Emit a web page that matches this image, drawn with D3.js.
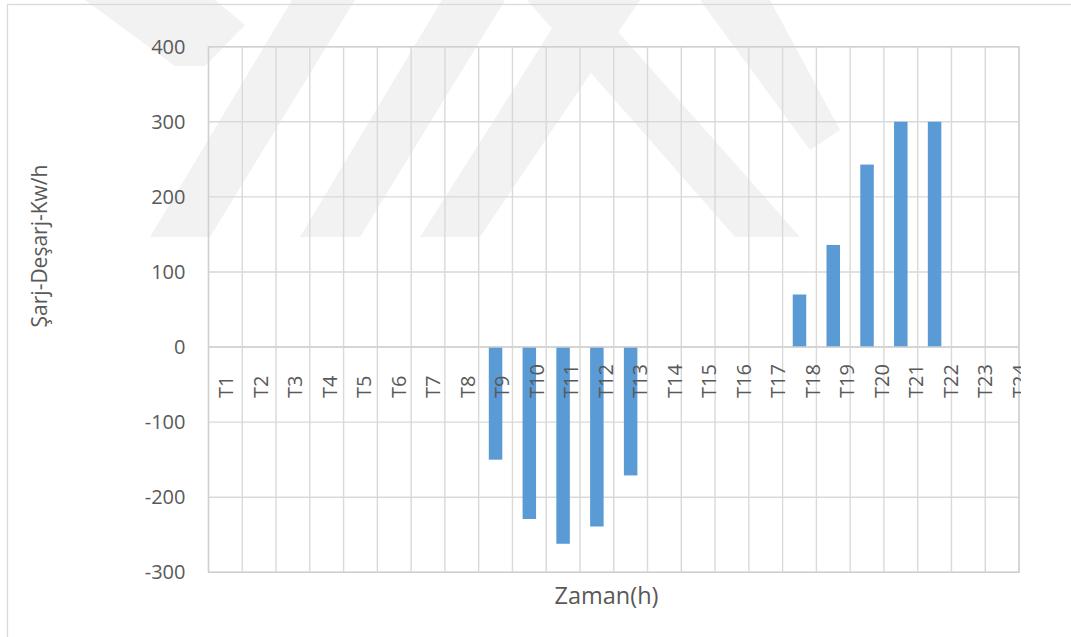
<!DOCTYPE html>
<html>
<head>
<meta charset="utf-8">
<script src="https://cdn.jsdelivr.net/npm/d3@7"></script>
<style>
  body { margin: 0; background: #fff; }
  text { font-family: "Open Sans", sans-serif; fill: #595959; }
</style>
</head>
<body>
<div id="chart"></div>
<script>
// categories and values
const hours = ["T1","T2","T3","T4","T5","T6","T7","T8","T9","T10","T11","T12",
               "T13","T14","T15","T16","T17","T18","T19","T20","T21","T22","T23","T24"];
const charge = [0,0,0,0,0,0,0,0,-150,-229,-262,-239,-171,0,0,0,0,70,136,243,300,300,0,0];
const yTicks = [-300,-200,-100,0,100,200,300,400];

const xTitle = "Zaman(h)";
const yTitle = "Şarj-Deşarj-Kw/h";

//DIMENSIONS
let dimension = {
    width: 1071,
    height: 637,
    margin: { top: 46.7, right: 52, bottom: 64.7, left: 208.5 },
}
dimension.boundedWidth = dimension.width - dimension.margin.left - dimension.margin.right;
dimension.boundedHeight = dimension.height - dimension.margin.top - dimension.margin.bottom;

const data = hours.map((h, i) => ({ name: h, value: charge[i] }));

//SCALES
const yScale = d3.scaleLinear()
    .domain([-300, 400])
    .range([dimension.boundedHeight, 0])

const xScale = d3.scaleBand()
    .domain(hours)
    .range([0, dimension.boundedWidth])
    .paddingInner(0.6)
    .paddingOuter(0.3)

const xGrid = d3.scaleBand()
    .domain(hours)
    .range([0, dimension.boundedWidth])

// tick labels drift a little to the right in the original
const xLabel = d3.scalePoint()
    .domain(hours)
    .range([17.5, 811])

const wrapper = d3.select("#chart")
    .append("svg")
    .attr("width", dimension.width)
    .attr("height", dimension.height)

//WATERMARK (faint background logo)
const mark = wrapper.append("g").attr("fill", "#f2f2f2")
const markShapes = [
    [[85,0],[215,0],[245,25],[205,66],[175,66]],
    [[150,237],[210,237],[355,0],[292,0]],
    [[300,237],[360,237],[505,0],[442,0]],
    [[420,237],[480,237],[640,0],[570,0]],
    [[527,0],[590,0],[800,237],[735,237]],
    [[700,0],[770,0],[840,130],[810,150]],
]
markShapes.forEach(p => {
    mark.append("polygon").attr("points", p.map(d => d.join(",")).join(" "))
})

//CHART BORDER
wrapper.append("rect")
    .attr("x", 7.5)
    .attr("y", 4.5)
    .attr("width", 1200)
    .attr("height", 800)
    .attr("fill", "none")
    .attr("stroke", "#d9d9d9")
    .attr("stroke-width", 1.3)

const bounds = wrapper.append("g")
    .attr("transform", `translate(${dimension.margin.left},${dimension.margin.top})`)

//GRID
bounds.selectAll(".hgrid")
    .data(yTicks)
    .enter()
    .append("line")
    .attr("x1", 0)
    .attr("x2", dimension.boundedWidth)
    .attr("y1", d => yScale(d))
    .attr("y2", d => yScale(d))
    .attr("stroke", "#d9d9d9")
    .attr("stroke-width", 1.4)

const vLines = hours.map(h => xGrid(h)).concat([dimension.boundedWidth])
bounds.selectAll(".vgrid")
    .data(vLines)
    .enter()
    .append("line")
    .attr("x1", d => d)
    .attr("x2", d => d)
    .attr("y1", 0)
    .attr("y2", dimension.boundedHeight)
    .attr("stroke", "#d9d9d9")
    .attr("stroke-width", 1.4)

// plot outline
bounds.append("rect")
    .attr("width", dimension.boundedWidth)
    .attr("height", dimension.boundedHeight)
    .attr("fill", "none")
    .attr("stroke", "#d0d0d0")
    .attr("stroke-width", 1.4)

//BARS
bounds.selectAll(".bar")
    .data(data.filter(d => d.value !== 0))
    .enter()
    .append("rect")
    .attr("x", d => xScale(d.name))
    .attr("width", xScale.bandwidth())
    .attr("y", d => yScale(Math.max(0, d.value)))
    .attr("height", d => Math.abs(yScale(d.value) - yScale(0)))
    .attr("fill", "#5b9bd5")

// zero axis line
bounds.append("line")
    .attr("x1", 0)
    .attr("x2", dimension.boundedWidth)
    .attr("y1", yScale(0))
    .attr("y2", yScale(0))
    .attr("stroke", "#d0d0d0")
    .attr("stroke-width", 1.4)

//Y AXIS LABELS (plain hyphen for negatives, as in the original)
const yAxis = d3.axisLeft(yScale)
    .tickValues(yTicks)
    .tickFormat(d => String(d))
    .tickSize(0)
    .tickPadding(23)
const yAxisG = bounds.append("g").call(yAxis)
yAxisG.select(".domain").remove()
yAxisG.selectAll("text")
    .style("font-size", "20px")
    .attr("fill", "#595959")

//X LABELS (rotated, clipped at the plot edge)
wrapper.append("clipPath")
    .attr("id", "labelClip")
    .append("rect")
    .attr("x", 0).attr("y", 0)
    .attr("width", dimension.margin.left + dimension.boundedWidth + 2)
    .attr("height", dimension.height)

const labelY = yScale(0) + 51
bounds.append("g")
    .attr("clip-path", "url(#labelClip)")
    .attr("transform", `translate(${-dimension.margin.left},0)`)
    .selectAll("text")
    .data(hours)
    .enter()
    .append("text")
    .attr("transform", d => `translate(${dimension.margin.left + xLabel(d)},${labelY}) rotate(-90)`)
    .attr("dy", "0.35em")
    .attr("text-anchor", "start")
    .style("font-size", "20px")
    .text(d => d)

//AXIS TITLES
wrapper.append("text")
    .attr("x", 606.5)
    .attr("y", 604)
    .attr("text-anchor", "middle")
    .style("font-size", "23.5px")
    .text(xTitle)

wrapper.append("text")
    .attr("transform", `translate(47,246) rotate(-90)`)
    .attr("text-anchor", "middle")
    .style("font-size", "21px")
    .text(yTitle)
</script>
</body>
</html>
